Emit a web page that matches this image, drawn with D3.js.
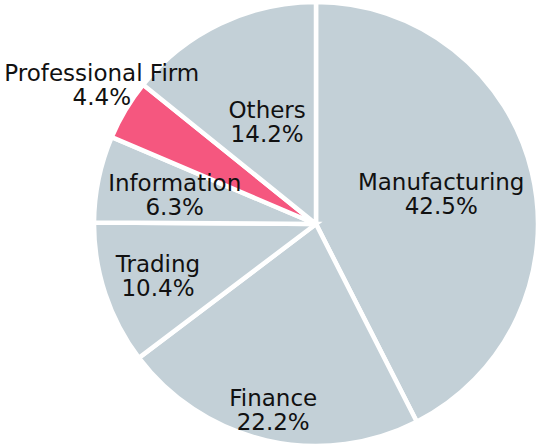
<!DOCTYPE html>
<html>
<head>
<meta charset="utf-8">
<script src="https://cdn.jsdelivr.net/npm/d3@7"></script>
<style>
  html, body { margin: 0; padding: 0; background: #ffffff; }
  svg { display: block; }
</style>
</head>
<body>
<svg id="chart" width="541" height="447"></svg>
<script>
// Data
const categories = ["Manufacturing", "Finance", "Trading", "Information", "Professional Firm", "Others"];
const shares = [42.5, 22.2, 10.4, 6.3, 4.4, 14.2];
const percentLabels = ["42.5%", "22.2%", "10.4%", "6.3%", "4.4%", "14.2%"];
const highlighted = ["Professional Firm"];

// Layout
const W = 541, H = 447;
const cx = 316, cy = 224, R = 222;
const labelRadiusFactor = [0.58, 0.86, 0.75, 0.65, 1.15, 0.51];
const labelAngleShiftDeg = [0, 0, 0, 0, 2, 0];
const baseColor = "#c3d0d7";
const highlightColor = "#f5577f";
const fontSize = 23;
const lineGap = 24;

const svg = d3.select("#chart");
const g = svg.append("g").attr("transform", `translate(${cx},${cy})`);

const pie = d3.pie().sort(null).value(d => d.v);
const data = categories.map((c, i) => ({ c, v: shares[i], p: percentLabels[i], i }));
const arcs = pie(data);
const arc = d3.arc().innerRadius(0).outerRadius(R);

g.selectAll("path.slice")
  .data(arcs)
  .join("path")
  .attr("class", "slice")
  .attr("d", arc)
  .attr("fill", d => highlighted.includes(d.data.c) ? highlightColor : baseColor)
  .attr("stroke", "#ffffff")
  .attr("stroke-width", 4.5)
  .attr("stroke-linejoin", "miter");

const labels = g.selectAll("text.lbl")
  .data(arcs)
  .join("text")
  .attr("class", "lbl")
  .attr("text-anchor", "middle")
  .attr("font-family", "'DejaVu Sans', Verdana, sans-serif")
  .attr("font-size", fontSize)
  .attr("fill", "#111111")
  .attr("transform", d => {
    const a = (d.startAngle + d.endAngle) / 2 + labelAngleShiftDeg[d.data.i] * Math.PI / 180;
    const r = R * labelRadiusFactor[d.data.i];
    const x = r * Math.sin(a), y = -r * Math.cos(a);
    return `translate(${x},${y})`;
  });

labels.append("tspan").attr("x", 0).attr("y", -4).text(d => d.data.c);
labels.append("tspan").attr("x", 0).attr("y", -4 + lineGap).text(d => d.data.p);
</script>
</body>
</html>
